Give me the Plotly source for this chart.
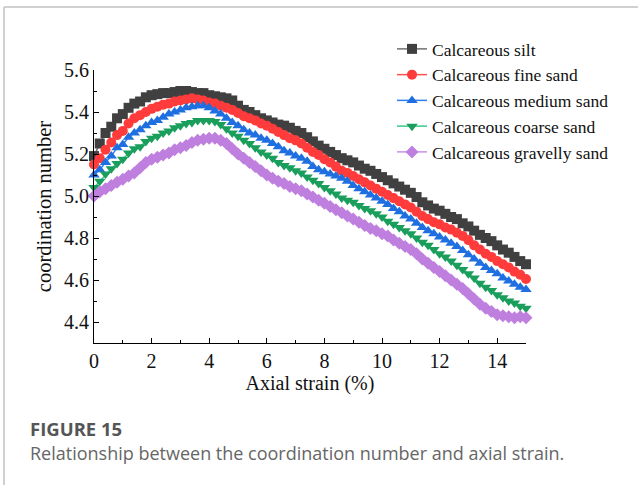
import plotly.graph_objects as go

strain = [0.0, 0.2, 0.4, 0.6, 0.8, 1.0, 1.2, 1.4, 1.6, 1.8, 2.0, 2.2, 2.4, 2.6, 2.8, 3.0, 3.2, 3.4, 3.6, 3.8,
          4.0, 4.2, 4.4, 4.6, 4.8, 5.0, 5.2, 5.4, 5.6, 5.8, 6.0, 6.2, 6.4, 6.6, 6.8, 7.0, 7.2, 7.4, 7.6, 7.8,
          8.0, 8.2, 8.4, 8.6, 8.8, 9.0, 9.2, 9.4, 9.6, 9.8, 10.0, 10.2, 10.4, 10.6, 10.8, 11.0, 11.2, 11.4, 11.6, 11.8,
          12.0, 12.2, 12.4, 12.6, 12.8, 13.0, 13.2, 13.4, 13.6, 13.8, 14.0, 14.2, 14.4, 14.6, 14.8, 15.0]

silt = [5.19, 5.25, 5.30, 5.33, 5.37, 5.39, 5.42, 5.44, 5.45, 5.47, 5.48, 5.485, 5.49, 5.49, 5.495, 5.50, 5.50, 5.495, 5.49, 5.49,
        5.48, 5.475, 5.47, 5.465, 5.455, 5.43, 5.41, 5.40, 5.385, 5.37, 5.36, 5.35, 5.34, 5.335, 5.325, 5.31, 5.30, 5.28, 5.26, 5.24,
        5.225, 5.21, 5.195, 5.18, 5.17, 5.16, 5.145, 5.13, 5.12, 5.105, 5.09, 5.075, 5.06, 5.045, 5.03, 5.015, 4.995, 4.97, 4.955, 4.94,
        4.93, 4.915, 4.90, 4.89, 4.87, 4.855, 4.835, 4.815, 4.80, 4.785, 4.765, 4.745, 4.73, 4.71, 4.69, 4.675]

fine_sand = [5.15, 5.18, 5.22, 5.255, 5.29, 5.31, 5.345, 5.37, 5.385, 5.40, 5.415, 5.425, 5.435, 5.44, 5.45, 5.455, 5.46, 5.465, 5.46, 5.455,
             5.445, 5.44, 5.43, 5.42, 5.41, 5.395, 5.38, 5.37, 5.36, 5.345, 5.335, 5.32, 5.305, 5.29, 5.275, 5.265, 5.25, 5.23, 5.21, 5.195,
             5.175, 5.16, 5.14, 5.12, 5.11, 5.095, 5.08, 5.065, 5.05, 5.035, 5.02, 5.005, 4.99, 4.975, 4.96, 4.945, 4.925, 4.905, 4.89, 4.875,
             4.865, 4.85, 4.84, 4.825, 4.81, 4.79, 4.765, 4.745, 4.725, 4.71, 4.69, 4.675, 4.66, 4.64, 4.625, 4.605]

medium_sand = [5.10, 5.125, 5.16, 5.19, 5.23, 5.245, 5.28, 5.30, 5.315, 5.335, 5.35, 5.36, 5.375, 5.39, 5.40, 5.41, 5.42, 5.425, 5.43, 5.43,
               5.42, 5.405, 5.39, 5.37, 5.35, 5.335, 5.315, 5.30, 5.29, 5.275, 5.265, 5.25, 5.235, 5.215, 5.205, 5.19, 5.18, 5.165, 5.14, 5.125,
               5.115, 5.105, 5.095, 5.085, 5.07, 5.05, 5.035, 5.02, 5.005, 4.99, 4.975, 4.96, 4.94, 4.925, 4.905, 4.89, 4.87, 4.85, 4.835, 4.82,
               4.805, 4.79, 4.775, 4.76, 4.74, 4.72, 4.70, 4.68, 4.66, 4.645, 4.63, 4.61, 4.595, 4.58, 4.565, 4.555]

coarse_sand = [5.04, 5.07, 5.105, 5.13, 5.155, 5.175, 5.205, 5.225, 5.235, 5.26, 5.275, 5.285, 5.30, 5.31, 5.325, 5.335, 5.345, 5.35, 5.36, 5.36,
               5.36, 5.355, 5.34, 5.32, 5.30, 5.285, 5.265, 5.25, 5.23, 5.21, 5.195, 5.18, 5.16, 5.145, 5.135, 5.12, 5.11, 5.09, 5.075, 5.06,
               5.04, 5.025, 5.01, 4.99, 4.98, 4.97, 4.955, 4.94, 4.93, 4.915, 4.90, 4.88, 4.865, 4.85, 4.835, 4.82, 4.80, 4.78, 4.765, 4.745,
               4.725, 4.71, 4.69, 4.67, 4.65, 4.63, 4.61, 4.585, 4.565, 4.55, 4.53, 4.515, 4.50, 4.49, 4.475, 4.465]

gravelly_sand = [5.00, 5.02, 5.035, 5.05, 5.065, 5.08, 5.095, 5.11, 5.135, 5.16, 5.175, 5.185, 5.195, 5.205, 5.22, 5.23, 5.24, 5.255, 5.265, 5.27,
                 5.275, 5.275, 5.265, 5.25, 5.225, 5.20, 5.18, 5.16, 5.14, 5.12, 5.10, 5.085, 5.07, 5.06, 5.045, 5.035, 5.025, 5.01, 4.995, 4.98,
                 4.965, 4.95, 4.935, 4.92, 4.905, 4.89, 4.875, 4.86, 4.845, 4.835, 4.82, 4.81, 4.79, 4.775, 4.76, 4.745, 4.725, 4.70, 4.68, 4.66,
                 4.64, 4.62, 4.60, 4.58, 4.56, 4.535, 4.51, 4.485, 4.465, 4.45, 4.435, 4.43, 4.425, 4.42, 4.425, 4.42]

series_names = ["Calcareous silt", "Calcareous fine sand", "Calcareous medium sand",
                "Calcareous coarse sand", "Calcareous gravelly sand"]
series_values = [silt, fine_sand, medium_sand, coarse_sand, gravelly_sand]
colors = ["#404040", "#ff3b3b", "#1f6fe0", "#1a9e5c", "#bf7fdf"]
line_colors = ["#707070", "#ff5050", "#2f7fef", "#3cc98a", "#c890e8"]
symbols = ["square", "circle", "triangle-up", "triangle-down", "diamond"]

SERIF = "Liberation Serif"

fig = go.Figure()
for name, vals, col, lcol, sym in zip(series_names, series_values, colors, line_colors, symbols):
    fig.add_trace(go.Scatter(
        x=strain, y=vals, name=name, mode="lines+markers",
        line=dict(color=lcol, width=1.5),
        marker=dict(symbol=sym, size=10, color=col, line=dict(width=0)),
        cliponaxis=False,
    ))

# pixel helpers for paper coordinates (plot area 94..526 x, 70..343 y)
def px(x):
    return (x - 94) / 432.0

def py(y):
    return (343 - y) / 273.0

fig.update_layout(
    width=638, height=485,
    margin=dict(l=94, r=112, t=70, b=142),
    paper_bgcolor="white", plot_bgcolor="white",
    font=dict(family=SERIF, size=16, color="#111111"),
    showlegend=True,
    legend=dict(x=px(392), y=py(31), xanchor="left", yanchor="top",
                bgcolor="rgba(0,0,0,0)", font=dict(family=SERIF, size=17.5, color="#111111"),
                tracegroupgap=0, itemwidth=30),
    xaxis=dict(range=[0, 15], showline=True, linecolor="black", linewidth=1,
               showgrid=False, zeroline=False, ticks="inside", ticklen=5, tickcolor="black",
               dtick=2, tick0=0, tickfont=dict(family=SERIF, size=20),
               minor=dict(ticks="inside", ticklen=3, dtick=1, tickcolor="black", showgrid=False),
               title=dict(text="Axial strain (%)", font=dict(family=SERIF, size=20), standoff=0)),
    yaxis=dict(range=[4.3, 5.6], showline=True, linecolor="black", linewidth=1,
               showgrid=False, zeroline=False, ticks="inside", ticklen=5, tickcolor="black",
               dtick=0.2, tick0=4.4, tickformat=".1f", tickfont=dict(family=SERIF, size=20),
               minor=dict(ticks="inside", ticklen=3, dtick=0.1, tickcolor="black", showgrid=False),
               title=dict(text="coordination number", font=dict(family=SERIF, size=20.5), standoff=6)),
)

# card border (top and left)
fig.add_shape(type="line", xref="paper", yref="paper", x0=px(4), x1=px(640), y0=py(7), y1=py(7),
              line=dict(color="#d0d0d0", width=2))
fig.add_shape(type="line", xref="paper", yref="paper", x0=px(4), x1=px(4), y0=py(7), y1=py(490),
              line=dict(color="#d0d0d0", width=2))

# caption
fig.add_annotation(text="<b>FIGURE 15</b>", xref="paper", yref="paper", x=px(29), y=py(428),
                   xanchor="left", yanchor="middle", showarrow=False, borderpad=0,
                   font=dict(family="Open Sans", size=18.5, color="#555555"))
fig.add_annotation(text="Relationship between the coordination number and axial strain.",
                   xref="paper", yref="paper", x=px(29), y=py(453),
                   xanchor="left", yanchor="middle", showarrow=False, borderpad=0,
                   font=dict(family="Open Sans", size=18, color="#666666"))

fig.write_html("out.html")
